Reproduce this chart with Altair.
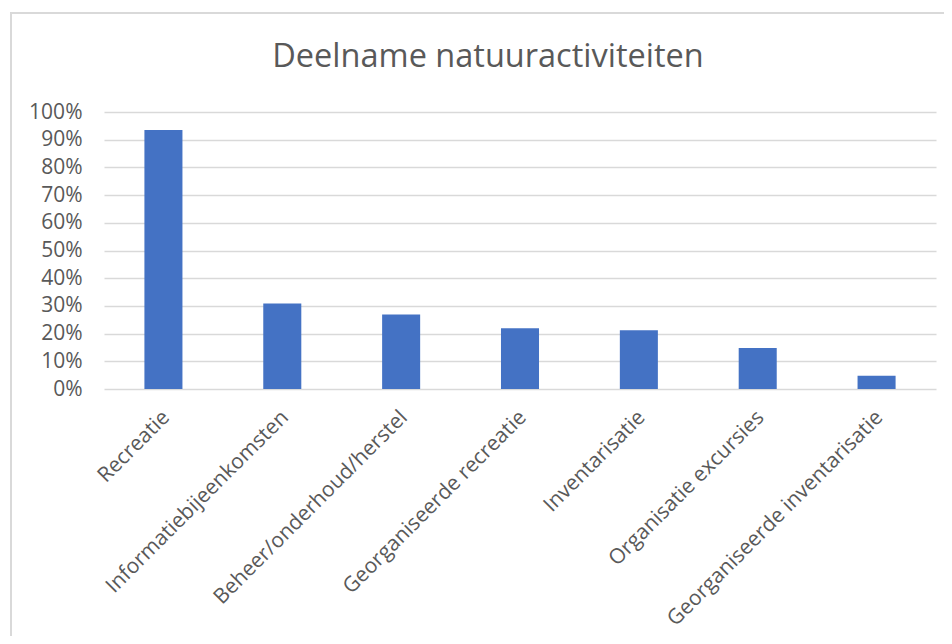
import altair as alt
import pandas as pd

categories = [
    "Recreatie",
    "Informatiebijeenkomsten",
    "Beheer/onderhoud/herstel",
    "Georganiseerde recreatie",
    "Inventarisatie",
    "Organisatie excursies",
    "Georganiseerde inventarisatie",
]
values = [0.935, 0.309, 0.269, 0.219, 0.212, 0.148, 0.048]
y_ticks = [0, 0.1, 0.2, 0.3, 0.4, 0.5, 0.6, 0.7, 0.8, 0.9, 1.0]

df = pd.DataFrame({"Activiteit": categories, "Deelname": values})

FONT = "Open Sans"
GREY = "#595959"

bars = alt.Chart(df).mark_bar(color="#4472C4").encode(
    x=alt.X(
        "Activiteit:N",
        sort=categories,
        title=None,
        scale=alt.Scale(paddingInner=0.68, paddingOuter=0.34),
        axis=alt.Axis(
            labelAngle=-45,
            labelAlign="right",
            labelBaseline="middle",
            labelPadding=25,
            labelOffset=3,
            labelFont=FONT,
            labelFontSize=21,
            labelColor=GREY,
            ticks=False,
            tickSize=0,
            domain=False,
            grid=False,
            labelLimit=400,
        ),
    ),
    y=alt.Y(
        "Deelname:Q",
        title=None,
        scale=alt.Scale(domain=[0, 1], nice=False),
        axis=alt.Axis(
            values=y_ticks,
            format=".0%",
            labelFont=FONT,
            labelFontSize=21,
            labelColor=GREY,
            labelPadding=22,
            ticks=False,
            tickSize=0,
            domain=False,
            grid=True,
            gridColor="#D9D9D9",
            gridWidth=1.5,
        ),
    ),
)

border = alt.Chart(df).mark_rect(
    fill=None, stroke="#D9D9D9", strokeWidth=1.5
).encode(
    x=alt.value(-93), x2=alt.value(870), y=alt.value(-99), y2=alt.value(560)
)

chart = alt.layer(border, bars).properties(
    width=832,
    height=277,
    padding={"left": 96, "top": 104, "right": 8, "bottom": 247},
    autosize=alt.AutoSizeParams(type="none"),
    title=alt.TitleParams(
        "Deelname natuuractiviteiten",
        font=FONT,
        fontSize=32.5,
        fontWeight="normal",
        color=GREY,
        frame="group",
        anchor="middle",
        dx=-32,
        offset=-87,
        baseline="alphabetic",
    ),
).configure_view(stroke=None)

chart.save("out.html", embed_options={"renderer": "svg", "actions": False})
